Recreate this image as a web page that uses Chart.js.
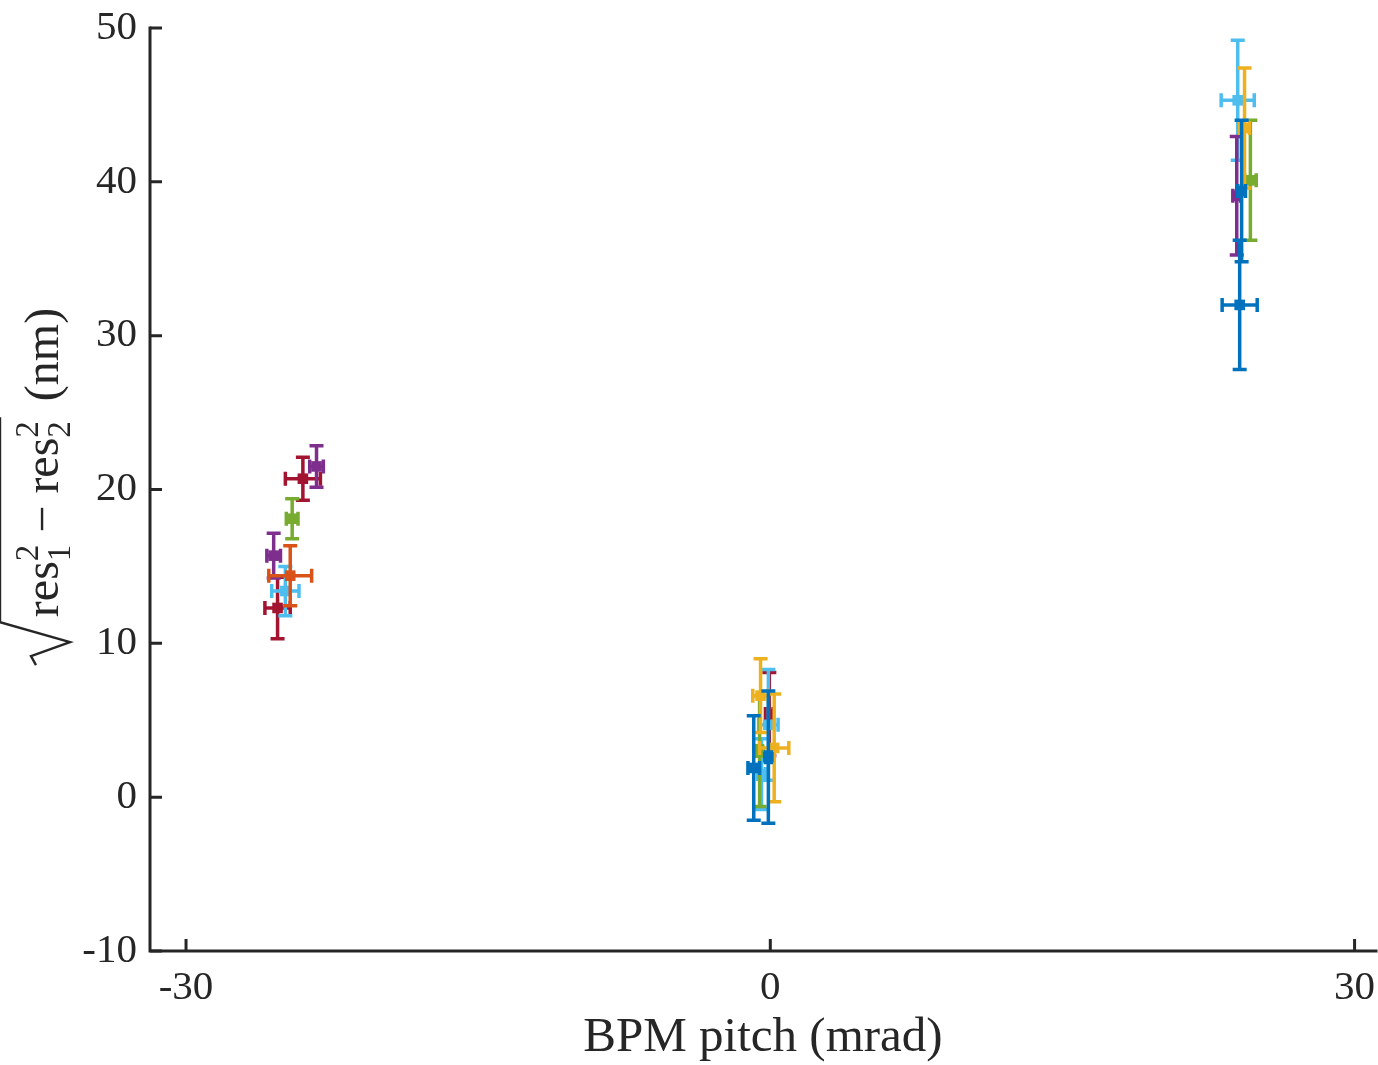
<!DOCTYPE html>
<html>
<head>
<meta charset="utf-8">
<script src="https://cdn.jsdelivr.net/npm/chart.js@4/dist/chart.umd.min.js"></script>
<style>
  html, body { margin: 0; padding: 0; background: #ffffff; }
  #wrap { width: 1378px; height: 1065px; }
</style>
</head>
<body>
<div id="wrap"><canvas id="c" width="1378" height="1065"></canvas></div>
<script>
// Axis ticks
const xTickValues = [-30, 0, 30];
const yTickValues = [-10, 0, 10, 20, 30, 40, 50];

// Series: BPM pitch (mrad), value (nm) and their uncertainties
const bluePitch = [-0.1, -0.85, 24.1, 24.2];
const blueValue = [2.6, 1.9, 32.0, 39.4];
const bluePitchErr = [0.15, 0.3, 0.9, 0.2];
const blueValueErr = [4.3, 3.4, 4.2, 4.6];

const orangePitch = [-24.65];
const orangeValue = [14.4];
const orangePitchErr = [1.1];
const orangeValueErr = [1.95];

const yellowPitch = [-0.5, 0.2, 24.35];
const yellowValue = [6.6, 3.2, 43.5];
const yellowPitchErr = [0.4, 0.75, 0.25];
const yellowValueErr = [2.4, 3.5, 3.9];

const purplePitch = [-23.3, -25.5, 23.95];
const purpleValue = [21.5, 15.7, 39.1];
const purplePitchErr = [0.35, 0.35, 0.2];
const purpleValueErr = [1.35, 1.45, 3.85];

const greenPitch = [-24.55, -0.55, 24.65];
const greenValue = [18.1, 3.0, 40.1];
const greenPitchErr = [0.3, 0.15, 0.3];
const greenValueErr = [1.3, 3.6, 3.9];

const lightBluePitch = [-24.9, -0.1, -0.45, 24.0];
const lightBlueValue = [13.4, 4.7, 1.5, 45.3];
const lightBluePitchErr = [0.7, 0.5, 0.2, 0.85];
const lightBlueValueErr = [1.6, 3.6, 2.3, 3.9];

const darkRedPitch = [-24.0, -25.3, -0.05];
const darkRedValue = [20.7, 12.3, 5.4];
const darkRedPitchErr = [0.9, 0.65, 0.2];
const darkRedValueErr = [1.4, 2.0, 2.7];

const seriesColors = ['#0072BD', '#D95319', '#EDB120', '#7E2F8E', '#77AC30', '#4DBEEE', '#A2142F'];

const seriesList = [
  [bluePitch, blueValue, bluePitchErr, blueValueErr],
  [orangePitch, orangeValue, orangePitchErr, orangeValueErr],
  [yellowPitch, yellowValue, yellowPitchErr, yellowValueErr],
  [purplePitch, purpleValue, purplePitchErr, purpleValueErr],
  [greenPitch, greenValue, greenPitchErr, greenValueErr],
  [lightBluePitch, lightBlueValue, lightBluePitchErr, lightBlueValueErr],
  [darkRedPitch, darkRedValue, darkRedPitchErr, darkRedValueErr]
];

const datasets = seriesList.map(([px, vy, ex, ey], i) => ({
  data: px.map((x, k) => ({ x: x, y: vy[k], xErr: ex[k], yErr: ey[k] })),
  backgroundColor: seriesColors[i],
  borderColor: seriesColors[i],
  borderWidth: 0,
  pointStyle: 'rect',
  pointRadius: 7.5,
  pointHoverRadius: 7.5
}));

const AXIS_COLOR = '#262626';
const SERIF = '"Liberation Serif", "DejaVu Serif", serif';

// Error bars are drawn just before each dataset's markers so stacking follows series order
const errorBars = {
  id: 'errorBars',
  beforeDatasetDraw(chart, args) {
    const ctx = chart.ctx;
    const xs = chart.scales.x, ys = chart.scales.y;
    const ds = chart.data.datasets[args.index];
    const cap = 7;
    ctx.save();
    ctx.strokeStyle = ds.borderColor;
    ctx.lineWidth = 3.5;
    ctx.lineCap = 'butt';
    ds.data.forEach(p => {
      const cx = xs.getPixelForValue(p.x);
      const cy = ys.getPixelForValue(p.y);
      const y1 = ys.getPixelForValue(p.y + p.yErr);
      const y2 = ys.getPixelForValue(p.y - p.yErr);
      const x1 = xs.getPixelForValue(p.x - p.xErr);
      const x2 = xs.getPixelForValue(p.x + p.xErr);
      ctx.beginPath();
      ctx.moveTo(cx, y1); ctx.lineTo(cx, y2);
      ctx.moveTo(cx - cap, y1); ctx.lineTo(cx + cap, y1);
      ctx.moveTo(cx - cap, y2); ctx.lineTo(cx + cap, y2);
      ctx.moveTo(x1, cy); ctx.lineTo(x2, cy);
      ctx.moveTo(x1, cy - cap); ctx.lineTo(x1, cy + cap);
      ctx.moveTo(x2, cy - cap); ctx.lineTo(x2, cy + cap);
      ctx.stroke();
    });
    ctx.restore();
  }
};

// Left and bottom axis lines with inward tick marks, plus the typeset y label
const axesAndLabel = {
  id: 'axesAndLabel',
  afterDraw(chart) {
    const ctx = chart.ctx;
    const a = chart.chartArea;
    const xs = chart.scales.x, ys = chart.scales.y;
    ctx.save();
    ctx.strokeStyle = AXIS_COLOR;
    ctx.lineWidth = 3;
    ctx.lineCap = 'square';
    ctx.beginPath();
    ctx.moveTo(a.left, a.top);
    ctx.lineTo(a.left, a.bottom);
    ctx.lineTo(a.right, a.bottom);
    ctx.stroke();
    ctx.lineCap = 'butt';
    ctx.beginPath();
    yTickValues.forEach(v => {
      const y = ys.getPixelForValue(v);
      ctx.moveTo(a.left, y); ctx.lineTo(a.left + 12, y);
    });
    xTickValues.forEach(v => {
      const x = xs.getPixelForValue(v);
      ctx.moveTo(x, a.bottom); ctx.lineTo(x, a.bottom - 12);
    });
    ctx.stroke();
    ctx.restore();
    drawYLabel(ctx, 58, (a.top + a.bottom) / 2 - 2);
  }
};

function drawYLabel(ctx, baseX, centerY) {
  const big = '48px ' + SERIF;
  const small = '33px ' + SERIF;
  ctx.save();
  ctx.translate(baseX, centerY);
  ctx.rotate(-Math.PI / 2);
  ctx.fillStyle = AXIS_COLOR;
  ctx.strokeStyle = AXIS_COLOR;
  ctx.textBaseline = 'alphabetic';

  const pieces = [
    { t: 'res', f: big, dy: 0 },
    { t: '2', f: small, dy: -20, sub: '1' },
    { t: '\u2212', f: big, dy: 0, padL: 12, padR: 12 },
    { t: 'res', f: big, dy: 0 },
    { t: '2', f: small, dy: -20, sub: '2' },
  ];
  const radW = 50;
  let w = radW;
  pieces.forEach(p => {
    ctx.font = p.f;
    p.w = ctx.measureText(p.t).width;
    w += (p.padL || 0) + p.w + (p.padR || 0);
  });
  ctx.font = big;
  const tail = ' (nm)';
  const tailW = ctx.measureText(tail).width;
  const total = w + 8 + tailW;
  let x = -total / 2;
  const x0 = x;

  // radical sign and vinculum
  ctx.lineWidth = 2.4;
  ctx.lineJoin = 'miter';
  ctx.beginPath();
  ctx.moveTo(x0 + 2, -22);
  ctx.lineTo(x0 + 11, -27);
  ctx.lineTo(x0 + 25, 12);
  ctx.lineTo(x0 + 45, -58);
  ctx.lineTo(x0 + w + 4, -58);
  ctx.stroke();

  x += radW;
  pieces.forEach(p => {
    x += p.padL || 0;
    ctx.font = p.f;
    ctx.fillText(p.t, x, p.dy);
    if (p.sub) ctx.fillText(p.sub, x, 12);
    x += p.w + (p.padR || 0);
  });
  ctx.font = big;
  ctx.fillText(tail, x + 8, 0);
  ctx.restore();
}

function noScalePadding(s) {
  s.paddingLeft = 0;
  s.paddingRight = 0;
  s.paddingTop = 0;
  s.paddingBottom = 0;
}

new Chart(document.getElementById('c'), {
  type: 'scatter',
  data: { datasets: datasets },
  plugins: [errorBars, axesAndLabel],
  options: {
    responsive: false,
    devicePixelRatio: 1,
    animation: false,
    events: [],
    layout: { autoPadding: false, padding: { top: 28, right: 2, left: 0, bottom: 0 } },
    plugins: { legend: { display: false }, tooltip: { enabled: false } },
    scales: {
      x: {
        type: 'linear',
        min: -31.85,
        max: 31.1,
        afterBuildTicks: s => { s.ticks = xTickValues.map(v => ({ value: v })); },
        afterFit: s => { s.height = 114; noScalePadding(s); },
        grid: { display: false, drawTicks: false },
        border: { display: false },
        ticks: { color: AXIS_COLOR, font: { family: SERIF, size: 41 }, padding: 13, maxRotation: 0, autoSkip: false },
        title: { display: true, text: 'BPM pitch (mrad)', color: AXIS_COLOR, font: { family: SERIF, size: 49, lineHeight: 1.0 }, padding: { top: 0, bottom: 2 } }
      },
      y: {
        type: 'linear',
        min: -10,
        max: 50,
        afterBuildTicks: s => { s.ticks = yTickValues.map(v => ({ value: v })); },
        afterFit: s => { s.width = 150; noScalePadding(s); },
        grid: { display: false, drawTicks: false },
        border: { display: false },
        ticks: { color: AXIS_COLOR, font: { family: SERIF, size: 41 }, padding: 13 }
      }
    }
  }
});
</script>
</body>
</html>
